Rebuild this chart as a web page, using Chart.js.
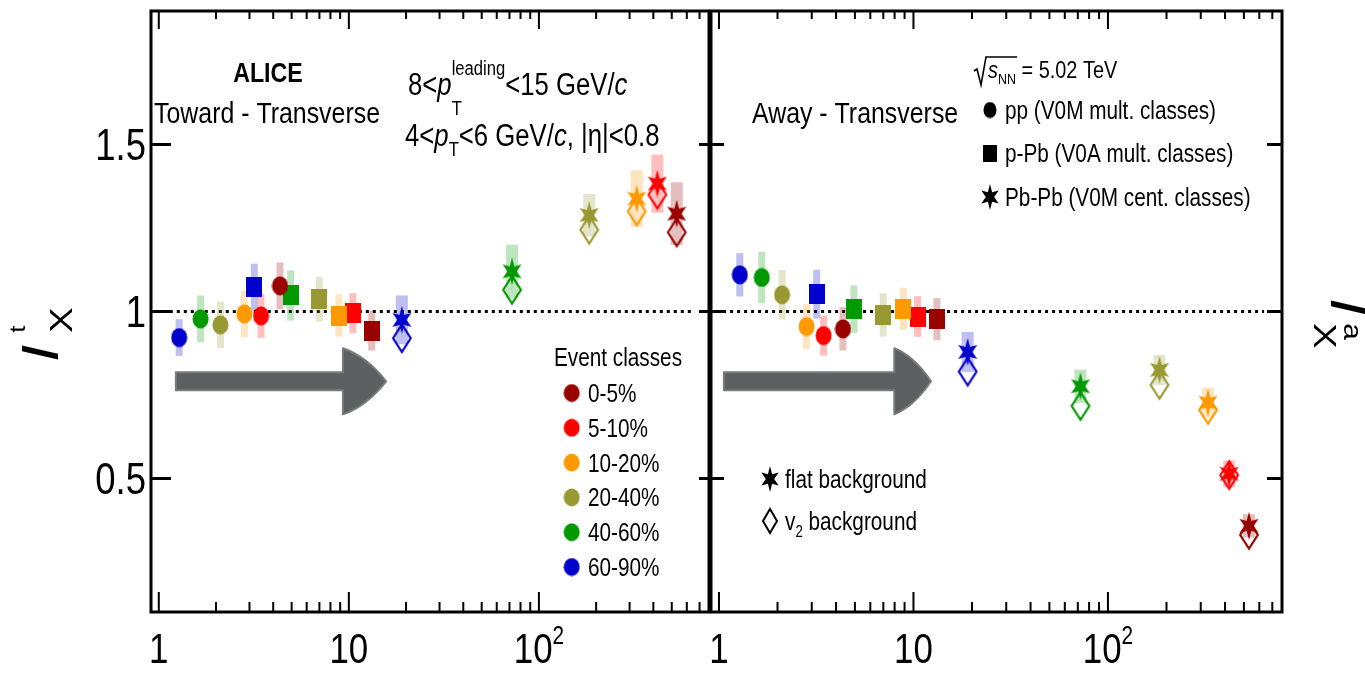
<!DOCTYPE html>
<html>
<head>
<meta charset="utf-8">
<title>I_X toward / away vs multiplicity</title>
<script src="https://cdn.jsdelivr.net/npm/chart.js@4.4.1/dist/chart.umd.min.js"></script>
<style>
  html, body { margin: 0; padding: 0; background: #fff; }
  body { width: 1365px; height: 675px; position: relative; overflow: hidden; }
  canvas { position: absolute; top: 0; }
  #left { left: 0; }
  #right { left: 700px; }
</style>
</head>
<body>
<canvas id="left" width="720" height="675"></canvas>
<canvas id="right" width="665" height="675"></canvas>
<script>
// ---- data ----
const classes = ['0-5%', '5-10%', '10-20%', '20-40%', '40-60%', '60-90%'];
const classColors = ['#990000', '#ff0000', '#ff9900', '#999933', '#009900', '#0000cc'];

// x positions of each event class
const ppX = [4.34, 3.45, 2.82, 2.11, 1.66, 1.28];
const pPbX = [13.2, 10.5, 8.87, 6.99, 4.94, 3.18];
const PbPbX = [531, 420, 327, 184, 72.2, 19.0];

// Toward - Transverse
const ppToward = [1.077, 0.987, 0.993, 0.960, 0.978, 0.922];
const ppTowardErr = [0.07, 0.066, 0.07, 0.07, 0.07, 0.055];
const pPbToward = [0.943, 0.995, 0.988, 1.037, 1.048, 1.073];
const pPbTowardErr = [0.06, 0.06, 0.063, 0.067, 0.075, 0.07];
const PbPbTowardFlat = [1.293, 1.383, 1.338, 1.289, 1.120, 0.975];
const PbPbTowardV2 = [1.237, 1.350, 1.300, 1.245, 1.065, 0.920];
const PbPbTowardErr = [0.094, 0.087, 0.085, 0.063, 0.08, 0.073];

// Away - Transverse
const ppAway = [0.948, 0.928, 0.955, 1.050, 1.102, 1.110];
const ppAwayErr = [0.065, 0.06, 0.067, 0.074, 0.077, 0.065];
const pPbAway = [0.977, 0.985, 1.008, 0.990, 1.007, 1.052];
const pPbAwayErr = [0.063, 0.061, 0.063, 0.065, 0.071, 0.073];
const PbPbAwayFlat = [0.358, 0.514, 0.727, 0.825, 0.776, 0.879];
const PbPbAwayV2 = [0.331, 0.510, 0.705, 0.780, 0.717, 0.820];
const PbPbAwayErr = [0.035, 0.04, 0.045, 0.045, 0.05, 0.06];

// axes
const X_MIN = 0.91, X_MAX = 785;
const Y_MIN = 0.1, Y_MAX = 1.9;
const yTickVals = [0.5, 1, 1.5];
const yTickLabels = ['0.5', '1', '1.5'];
const xLabelVals = [1, 10, 100];
const xLabelText = ['1', '10', '10^2'];
const refLine = { y: 1, from: 1.05, to: 635 };

const FONT = "'Liberation Sans', Arial, sans-serif";
const SQ = 0.83; // the original figure is squeezed horizontally

// ---- marker sprites ----
function sprite(w, h, paint) {
    const c = document.createElement('canvas');
    c.width = w; c.height = h;
    paint(c.getContext('2d'), w, h);
    return c;
}
const ellipse = (col, w = 17, h = 20) => sprite(w, h, (g) => {
    g.fillStyle = col;
    g.beginPath();
    g.ellipse(w / 2, h / 2, w / 2 - 0.5, h / 2 - 0.5, 0, 0, Math.PI * 2);
    g.fill();
});
const square = (col, w = 16, h = 20) => sprite(w, h, (g) => {
    g.fillStyle = col;
    g.fillRect(0, 0, w, h);
});
const star = (col, w = 22, h = 28) => sprite(w, h, (g) => {
    g.fillStyle = col;
    g.beginPath();
    for (let k = 0; k < 12; k++) {
        const ang = -Math.PI / 2 + k * Math.PI / 6;
        const r = k % 2 ? 0.42 : 1;
        const px = w / 2 + Math.cos(ang) * (w / 2) * r;
        const py = h / 2 + Math.sin(ang) * (h / 2) * r;
        if (k) g.lineTo(px, py); else g.moveTo(px, py);
    }
    g.closePath();
    g.fill();
});
const diamond = (col, w = 22, h = 32, lw = 2.2) => sprite(w, h, (g) => {
    g.strokeStyle = col;
    g.lineWidth = lw;
    const m = lw;
    g.beginPath();
    g.moveTo(w / 2, m); g.lineTo(w - m, h / 2); g.lineTo(w / 2, h - m); g.lineTo(m, h / 2);
    g.closePath();
    g.stroke();
});

function shade(hex, a) {
    const n = parseInt(hex.slice(1), 16);
    return `rgba(${(n >> 16) & 255},${(n >> 8) & 255},${n & 255},${a})`;
}

// ---- text helper: runs of text with sub/superscripts ----
function setFont(ctx, p) {
    ctx.font = (p.it ? 'italic ' : '') + (p.b ? 'bold ' : '') + p.s + 'px ' + FONT;
}
function runs(ctx, x, y, parts, opt = {}) {
    const sx = opt.sx ?? SQ, sy = opt.sy ?? 1;
    ctx.save();
    ctx.translate(x, y);
    if (opt.rot) ctx.rotate(opt.rot);
    ctx.scale(sx, sy);
    ctx.fillStyle = opt.color || '#000';
    ctx.textAlign = 'left';
    ctx.textBaseline = 'alphabetic';
    let total = 0;
    parts.forEach(p => { setFont(ctx, p); if (!p.stay) total += ctx.measureText(p.t).width + (p.dx || 0); });
    let cx = opt.align === 'center' ? -total / 2 : opt.align === 'right' ? -total : 0;
    parts.forEach(p => {
        setFont(ctx, p);
        ctx.fillText(p.t, cx + (p.dx || 0), p.dy || 0);
        if (!p.stay) cx += ctx.measureText(p.t).width + (p.dx || 0);
    });
    ctx.restore();
}

function drawArrow(ctx, xs, ys, ar) {
    const X = v => xs.getPixelForValue(v), Y = v => ys.getPixelForValue(v);
    ctx.save();
    ctx.fillStyle = '#5c6060';
    ctx.strokeStyle = '#777b7b';
    ctx.lineWidth = 2;
    ctx.lineJoin = 'round';
    ctx.beginPath();
    ctx.moveTo(X(ar.tail), Y(ar.y + ar.shaft));
    ctx.lineTo(X(ar.neck), Y(ar.y + ar.shaft));
    ctx.lineTo(X(ar.neck), Y(ar.y + ar.head));
    ctx.quadraticCurveTo(X(ar.neck) + (X(ar.tip) - X(ar.neck)) * 0.55, Y(ar.y + ar.head * 0.75), X(ar.tip), Y(ar.y));
    ctx.quadraticCurveTo(X(ar.neck) + (X(ar.tip) - X(ar.neck)) * 0.55, Y(ar.y - ar.head * 0.75), X(ar.neck), Y(ar.y - ar.head));
    ctx.lineTo(X(ar.neck), Y(ar.y - ar.shaft));
    ctx.lineTo(X(ar.tail), Y(ar.y - ar.shaft));
    ctx.closePath();
    ctx.fill();
    ctx.stroke();
    ctx.restore();
}

function panelPlugin(cfg) {
    return {
        id: 'panel_' + cfg.name,
        beforeDatasetsDraw(chart) {
            const { ctx, scales: { x, y } } = chart;
            drawArrow(ctx, x, y, cfg.arrow);

            // dotted line at unity
            ctx.save();
            ctx.setLineDash([3, 4]);
            ctx.lineWidth = 3;
            ctx.strokeStyle = '#000';
            ctx.beginPath();
            ctx.moveTo(x.getPixelForValue(refLine.from), y.getPixelForValue(refLine.y));
            ctx.lineTo(x.getPixelForValue(refLine.to), y.getPixelForValue(refLine.y));
            ctx.stroke();
            ctx.restore();

            // shaded uncertainty boxes
            chart.data.datasets.forEach(ds => {
                if (!ds.errs) return;
                ds.data.forEach((p, j) => {
                    const px = x.getPixelForValue(p.x);
                    const top = y.getPixelForValue(p.y + ds.errs[j]);
                    const bot = y.getPixelForValue(p.y - ds.errs[j]);
                    ctx.fillStyle = shade(classColors[j], 0.25);
                    ctx.fillRect(px - ds.errW / 2, top, ds.errW, bot - top);
                });
            });
        },
        afterDatasetsDraw(chart) {
            const { ctx, chartArea: a, scales: { x, y } } = chart;

            // frame
            ctx.save();
            ctx.strokeStyle = '#000';
            ctx.lineWidth = 3;
            ctx.strokeRect(a.left, a.top, a.right - a.left, a.bottom - a.top);

            // log ticks on bottom and top
            ctx.lineWidth = 2;
            ctx.beginPath();
            for (const d of [1, 10, 100]) {
                for (let k = 1; k < 10; k++) {
                    const v = k * d;
                    if (v < X_MIN || v > X_MAX) continue;
                    const px = x.getPixelForValue(v);
                    const major = k === 1;
                    ctx.moveTo(px, a.bottom); ctx.lineTo(px, a.bottom - (major ? 20 : 10));
                    ctx.moveTo(px, a.top); ctx.lineTo(px, a.top + (major ? 18 : 8));
                }
            }
            ctx.stroke();
            ctx.lineWidth = 3;
            ctx.beginPath();
            yTickVals.forEach(v => {
                const py = y.getPixelForValue(v);
                ctx.moveTo(a.left, py); ctx.lineTo(a.left + cfg.tickL, py);
                ctx.moveTo(a.right, py); ctx.lineTo(a.right - cfg.tickR, py);
            });
            ctx.stroke();
            ctx.restore();

            // x tick labels
            xLabelVals.forEach((v, i) => {
                const [base, pow] = xLabelText[i].split('^');
                const parts = [{ t: base, s: 42 }];
                if (pow) parts.push({ t: pow, s: 25, dy: -19 });
                runs(ctx, x.getPixelForValue(v), 663, parts, { align: 'center' });
            });

            if (cfg.yLabels) {
                yTickVals.forEach((v, i) => {
                    runs(ctx, a.left - 5, y.getPixelForValue(v) + 15.5, [{ t: yTickLabels[i], s: 44 }], { align: 'right' });
                });
            }

            ctx.save();
            ctx.translate(-cfg.offset, 0);
            cfg.texts(ctx);
            ctx.restore();
        }
    };
}

function datasets(flatY, v2Y, ppY, pPbY, ppErr, pPbErr, PbPbErr) {
    const common = { pointRadius: 10, showLine: false };
    return [
        { ...common, label: 'Pb-Pb flat', data: PbPbX.map((x, i) => ({ x, y: flatY[i] })),
          pointStyle: classColors.map(c => star(c)), errs: PbPbErr, errW: 12 },
        { ...common, label: 'pp', data: ppX.map((x, i) => ({ x, y: ppY[i] })),
          pointStyle: classColors.map(c => ellipse(c)), errs: ppErr, errW: 7 },
        { ...common, label: 'p-Pb', data: pPbX.map((x, i) => ({ x, y: pPbY[i] })),
          pointStyle: classColors.map(c => square(c)), errs: pPbErr, errW: 7 },
        { ...common, label: 'Pb-Pb v2', data: PbPbX.map((x, i) => ({ x, y: v2Y[i] })),
          pointStyle: classColors.map(c => diamond(c)) }
    ];
}

function options(padding) {
    return {
        responsive: false,
        animation: false,
        events: [],
        layout: { padding },
        plugins: { legend: { display: false }, tooltip: { enabled: false } },
        scales: {
            x: { type: 'logarithmic', min: X_MIN, max: X_MAX, display: false },
            y: { type: 'linear', min: Y_MIN, max: Y_MAX, display: false }
        }
    };
}

// ---- left panel: Toward - Transverse ----
const leftTexts = (ctx) => {
    runs(ctx, 268, 82, [{ t: 'ALICE', s: 28, b: 1 }], { align: 'center' });
    runs(ctx, 154, 123, [{ t: 'Toward - Transverse', s: 30 }]);
    runs(ctx, 408, 95, [
        { t: '8<', s: 31 }, { t: 'p', s: 31, it: 1 },
        { t: 'T', s: 20, dy: 20, stay: 1 }, { t: 'leading', s: 20, dy: -20 },
        { t: '<15 GeV/', s: 31 }, { t: 'c', s: 31, it: 1 }
    ]);
    runs(ctx, 405, 146, [
        { t: '4<', s: 31 }, { t: 'p', s: 31, it: 1 }, { t: 'T', s: 20, dy: 10 },
        { t: '<6 GeV/', s: 31 }, { t: 'c', s: 31, it: 1 }, { t: ', |η|<0.8', s: 31 }
    ]);

    // event class legend
    runs(ctx, 618, 366, [{ t: 'Event classes', s: 25 }], { align: 'center' });
    classes.forEach((c, i) => {
        const cy = 393 + i * 34.8;
        ctx.drawImage(ellipse(classColors[i], 17, 19), 571.7 - 8.5, cy - 9.5);
        runs(ctx, 588, cy + 9, [{ t: c, s: 25 }]);
    });

    // y title I^t_X
    runs(ctx, 58, 362, [
        { t: 'I', s: 62, it: 1 }, { t: 't', s: 26, dy: -40, dx: 12, stay: 1 }, { t: 'X', s: 38, dy: 17, dx: 12 }
    ], { rot: -Math.PI / 2, sx: 1, sy: SQ });
};

new Chart(document.getElementById('left'), {
    type: 'scatter',
    data: { datasets: datasets(PbPbTowardFlat, PbPbTowardV2, ppToward, pPbToward, ppTowardErr, pPbTowardErr, PbPbTowardErr) },
    options: options({ left: 151, right: 11, top: 10, bottom: 63 }),
    plugins: [panelPlugin({
        name: 'toward', offset: 0, tickL: 20, tickR: 10, yLabels: true,
        arrow: { tail: 1.23, neck: 9.31, tip: 15.7, y: 0.791, shaft: 0.027, head: 0.099 },
        texts: leftTexts
    })]
});

// ---- right panel: Away - Transverse ----
const rightTexts = (ctx) => {
    // sqrt(s_NN) = 5.02 TeV
    ctx.save();
    ctx.strokeStyle = '#000';
    ctx.lineWidth = 1.6;
    ctx.beginPath();
    ctx.moveTo(974, 71); ctx.lineTo(977, 69); ctx.lineTo(981, 85); ctx.lineTo(986, 57); ctx.lineTo(1017, 57);
    ctx.stroke();
    ctx.restore();
    runs(ctx, 988, 78, [{ t: 's', s: 24, it: 1 }, { t: 'NN', s: 15, dy: 6 }, { t: ' = 5.02 TeV', s: 24 }]);

    runs(ctx, 752, 123, [{ t: 'Away - Transverse', s: 30 }]);

    ctx.drawImage(ellipse('#000', 14, 17), 990 - 7, 110 - 8.5);
    runs(ctx, 1005, 119, [{ t: 'pp (V0M mult. classes)', s: 25 }]);
    ctx.drawImage(square('#000', 14, 17), 990 - 7, 153 - 8.5);
    runs(ctx, 1005, 162, [{ t: 'p-Pb (V0A mult. classes)', s: 25 }]);
    ctx.drawImage(star('#000', 20, 26), 990 - 10, 197 - 13);
    runs(ctx, 1005, 206, [{ t: 'Pb-Pb (V0M cent. classes)', s: 25 }]);

    ctx.drawImage(star('#000', 20, 26), 770 - 10, 479 - 13);
    runs(ctx, 785, 488, [{ t: 'flat background', s: 25 }]);
    ctx.drawImage(diamond('#000', 18, 28, 2), 770 - 9, 521 - 14);
    runs(ctx, 785, 530, [{ t: 'v', s: 25 }, { t: '2', s: 16, dy: 7 }, { t: ' background', s: 25 }]);

    // neighbouring panel's title, cut at the edge
    runs(ctx, 1331, 298, [
        { t: 'I', s: 62, it: 1 }, { t: 'a', s: 30, dy: -16, dx: 8, stay: 1 }, { t: 'X', s: 38, dy: 20, dx: 8 }
    ], { rot: Math.PI / 2, sx: 1, sy: SQ });
};

new Chart(document.getElementById('right'), {
    type: 'scatter',
    data: { datasets: datasets(PbPbAwayFlat, PbPbAwayV2, ppAway, pPbAway, ppAwayErr, pPbAwayErr, PbPbAwayErr) },
    options: options({ left: 9, right: 83, top: 10, bottom: 63 }),
    plugins: [panelPlugin({
        name: 'away', offset: 700, tickL: 13, tickR: 15, yLabels: false,
        arrow: { tail: 1.06, neck: 7.97, tip: 12.3, y: 0.791, shaft: 0.027, head: 0.099 },
        texts: rightTexts
    })]
});
</script>
</body>
</html>
